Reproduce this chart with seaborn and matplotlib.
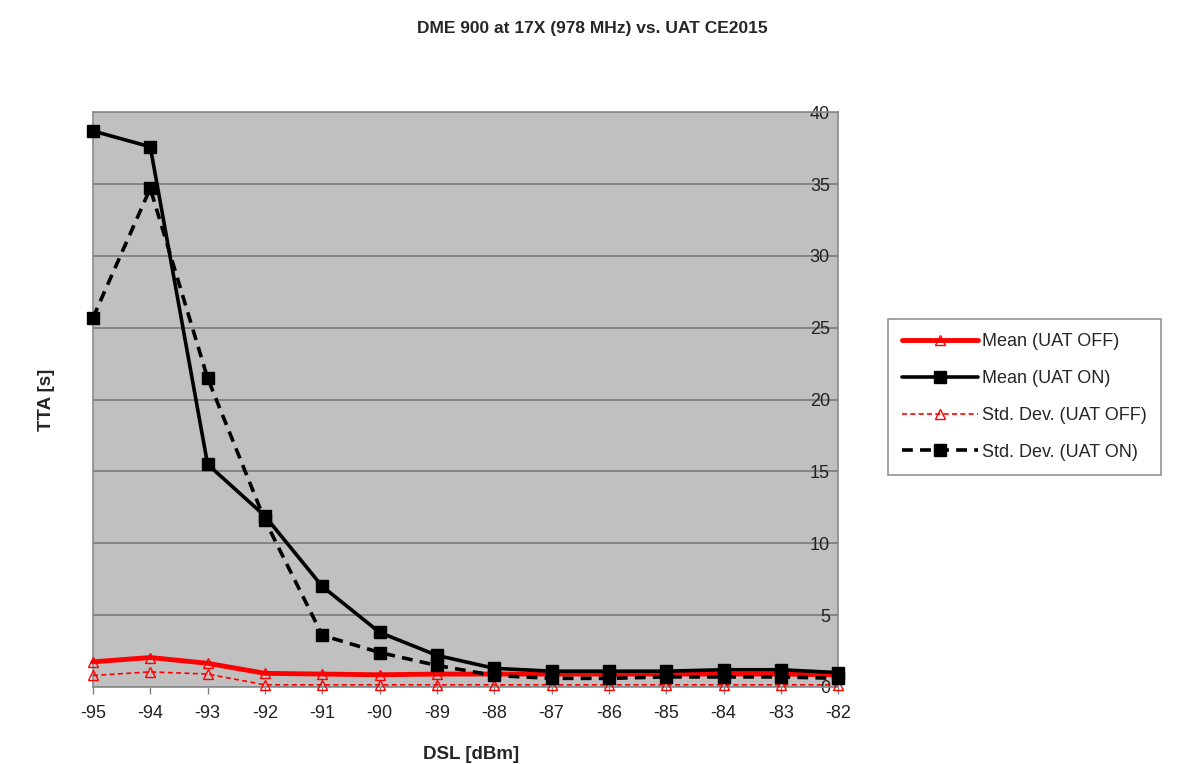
import matplotlib
matplotlib.use("Agg")
import matplotlib.pyplot as plt
import seaborn as sns
import pandas as pd

dsl = [-95, -94, -93, -92, -91, -90, -89, -88, -87, -86, -85, -84, -83, -82]
mean_off = [1.75, 2.05, 1.65, 0.95, 0.9, 0.85, 0.9, 0.9, 0.9, 0.9, 0.9, 0.9, 0.9, 0.85]
mean_on = [38.7, 37.6, 15.5, 11.9, 7.0, 3.8, 2.2, 1.3, 1.1, 1.1, 1.1, 1.2, 1.2, 1.0]
std_off = [0.8, 1.05, 0.9, 0.15, 0.15, 0.15, 0.15, 0.15, 0.15, 0.15, 0.15, 0.15, 0.15, 0.15]
std_on = [25.7, 34.7, 21.5, 11.6, 3.6, 2.4, 1.5, 0.8, 0.6, 0.6, 0.7, 0.7, 0.7, 0.6]
labels = ["Mean (UAT OFF)", "Mean (UAT ON)", "Std. Dev. (UAT OFF)", "Std. Dev. (UAT ON)"]

sns.set_theme(style="white")
plt.rcParams['font.family'] = ['Liberation Sans', 'DejaVu Sans']

fig = plt.figure(figsize=(11.84, 7.64), dpi=100)
ax = fig.add_axes([0.0785, 0.1008, 0.6295, 0.7522])
ax.set_facecolor("#C0C0C0")

styles = [
    dict(color="red", lw=3.5, ls="-", marker="^", ms=7, mfc="none", mec="red", mew=1.0),
    dict(color="black", lw=2.6, ls="-", marker="s", ms=9, mfc="black", mec="black", mew=1.0),
    dict(color="red", lw=1.2, ls=(0, (3, 2)), marker="^", ms=7, mfc="none", mec="red", mew=1.0),
    dict(color="black", lw=2.6, ls=(0, (3, 2)), marker="s", ms=9, mfc="black", mec="black", mew=1.0),
]
series = [mean_off, mean_on, std_off, std_on]
for vals, lab, st in zip(series, labels, styles):
    df = pd.DataFrame({"DSL": dsl, "TTA": vals})
    sns.lineplot(data=df, x="DSL", y="TTA", ax=ax, label=lab,
                 color=st["color"], linewidth=st["lw"], linestyle=st["ls"],
                 marker=st["marker"], markersize=st["ms"], markerfacecolor=st["mfc"],
                 markeredgecolor=st["mec"], markeredgewidth=st["mew"], zorder=3,
                 clip_on=False)

ax.set_xlim(-95, -82)
ax.set_ylim(0, 40)
ax.set_xticks(dsl)
ax.set_xticklabels([str(v) for v in dsl])
ax.set_yticks(range(0, 41, 5))
ax.yaxis.grid(True, color="#7a7a7a", linewidth=1.2)
ax.set_axisbelow(True)
ax.yaxis.tick_right()
ax.tick_params(axis="y", length=0, pad=-6, labelsize=13, labelcolor="#222222")
for t in ax.get_yticklabels():
    t.set_horizontalalignment("right")
ax.tick_params(axis="x", length=5, width=1, color="#808080", bottom=True,
               labelsize=13, pad=8, labelcolor="#222222")
for s in ax.spines.values():
    s.set_color("#8a8a8a")
    s.set_linewidth(1.2)

ax.set_xlabel("")
ax.set_ylabel("")
fig.text(0.039, 0.477, "TTA [s]", rotation=90, ha="center", va="center",
         fontsize=13.5, fontweight="bold")
fig.text(0.398, 0.012, "DSL [dBm]", ha="center", va="center",
         fontsize=13.5, fontweight="bold")
fig.text(0.5, 0.963, "DME 900 at 17X (978 MHz) vs. UAT CE2015", ha="center",
         va="center", fontsize=12.5, fontweight="bold")

ax.get_legend().remove()
handles, labs = ax.get_legend_handles_labels()
leg = fig.legend(handles, labs, loc="center", bbox_to_anchor=(0.744, 0.377, 0.242, 0.207),
                 fontsize=13, frameon=True, fancybox=False, edgecolor="#777777",
                 handlelength=4.2, labelspacing=1.1, borderpad=0.8, handletextpad=0.2)
leg.get_frame().set_linewidth(1.2)

fig.savefig("out.png", dpi=100, facecolor="white")
